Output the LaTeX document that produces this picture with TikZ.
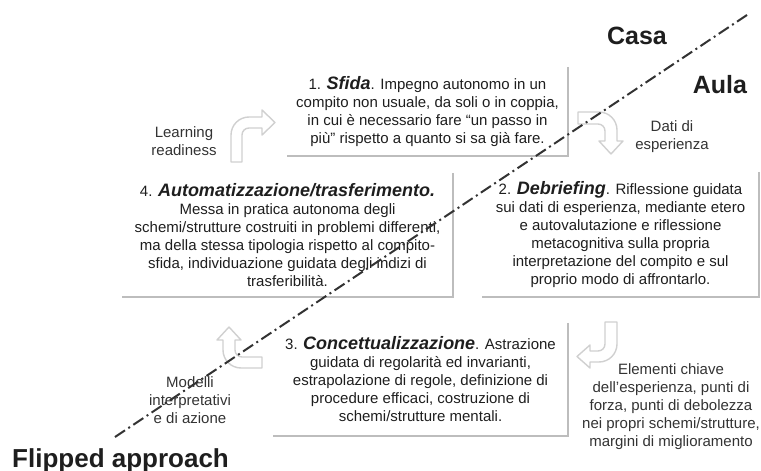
\documentclass[tikz,border=0pt]{standalone}
\usepackage{fontspec}
\setmainfont{Liberation Sans}
\usepackage{tikz}

\definecolor{txt}{HTML}{1E1E1E}
\definecolor{lbl}{HTML}{333333}
\definecolor{rim}{HTML}{BDBDBD}
\definecolor{arr}{HTML}{D0D0D0}

\newcommand{\stepname}[1]{{\fontsize{18}{18}\selectfont\bfseries\itshape #1}}

\begin{document}
\begin{tikzpicture}[x=1pt,y=-1pt,
  phase/.style={align=center,inner sep=0pt,text=txt,font=\fontsize{15}{18}\selectfont},
  note/.style={align=center,inner sep=0pt,text=lbl,font=\fontsize{15}{18}\selectfont},
  place/.style={inner sep=0pt,text=txt,font=\fontsize{25}{25}\selectfont\bfseries},
  rim/.style={draw=rim,line width=2.5pt},
  bent/.style={draw=arr,fill=white,line width=1.4pt,line join=round},
  split/.style={draw=black!80,line width=2pt,dash pattern=on 12pt off 4pt on 2pt off 4pt}]

      \useasboundingbox (0,0) rectangle (761,471);

      % draw boxes
      \node[phase,minimum width=281pt,minimum height=89pt] (sfida) at (427.5,111.5)
        {1. \stepname{Sfida}. Impegno autonomo in un\\
         compito non usuale, da soli o in coppia,\\
         in cui è necessario fare “un passo in\\
         più” rispetto a quanto si sa già fare.};
      \node[phase,minimum width=277pt,minimum height=125pt] (debrief) at (620.5,234.5)
        {2. \stepname{Debriefing}. Riflessione guidata\\
         sui dati di esperienza, mediante etero\\
         e autovalutazione e riflessione\\
         metacognitiva sulla propria\\
         interpretazione del compito e sul\\
         proprio modo di affrontarlo.};
      \node[phase,minimum width=295pt,minimum height=113pt] (concetto) at (420.5,379.5)
        {3. \stepname{Concettualizzazione}. Astrazione\\
         guidata di regolarità ed invarianti,\\
         estrapolazione di regole, definizione di\\
         procedure efficaci, costruzione di\\
         schemi/strutture mentali.};
      \node[phase,minimum width=331pt,minimum height=124pt] (auto) at (287.5,235)
        {4. \stepname{Automatizzazione/trasferimento.}\\
         Messa in pratica autonoma degli\\
         schemi/strutture costruiti in problemi differenti,\\
         ma della stessa tipologia rispetto al compito-\\
         sfida, individuazione guidata degli indizi di\\
         trasferibilità.};

      % draw shadow edges
      \foreach \b in {sfida,debrief,concetto,auto}
      \draw[rim] (\b.north east) -- (\b.south east) -- (\b.south west);

      % draw labels
      \node[note] (ready) at (184,141) {Learning\\readiness};
      \node[note] (dati) at (672,137) {Dati di\\esperienza};
      \node[note] (chiave) at (671,407) {Elementi chiave\\dell'esperienza, punti di\\forza, punti di debolezza\\nei propri schemi/strutture,\\margini di miglioramento};
      \node[note] (modelli) at (190,400) {Modelli\\interpretativi\\e di azione};

      % draw bent arrows
      \draw[bent] (231,162) [rounded corners=18pt] -- (231,117) [sharp corners] -- (262,117) -- (262,110)
        -- (275,122.5) -- (262,135) -- (262,128) [rounded corners=7pt] -- (242,128) [sharp corners] -- (242,162) -- cycle;
      \draw[bent] (578,112) [rounded corners=18pt] -- (617,112) [sharp corners] -- (617,141) -- (623,141)
        -- (611,154) -- (599,141) -- (605,141) [rounded corners=7pt] -- (605,124) [sharp corners] -- (578,124) -- cycle;
      \draw[bent] (605,322) -- (617,322) [rounded corners=18pt] -- (617,362) [sharp corners] -- (590,362) -- (590,368)
        -- (577,356.5) -- (590,345) -- (590,351) [rounded corners=7pt] -- (605,351) [sharp corners] -- cycle;
      \draw[bent] (262,357) -- (262,368) [rounded corners=18pt] -- (223,368) [sharp corners] -- (223,340) -- (217,340)
        -- (229,327) -- (241,340) -- (235,340) [rounded corners=7pt] -- (235,357) [sharp corners] -- cycle;

      % draw dividing line
      \coordinate (lo) at (115,437);
      \coordinate (hi) at (747,15);
      \draw[split] (lo) -- (hi);

      % draw titles
      \node[place,anchor=base] (casa) at (637,45) {Casa};
      \node[place,anchor=base] (aula) at (720,93) {Aula};
      \node[place,anchor=base west,font=\fontsize{26}{26}\selectfont\bfseries] (flip) at (12,467) {Flipped approach};

\end{tikzpicture}
\end{document}
